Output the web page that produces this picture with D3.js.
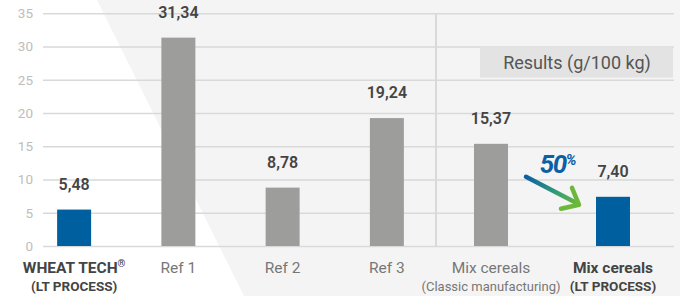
<!DOCTYPE html>
<html>
<head>
<meta charset="utf-8">
<script src="https://cdn.jsdelivr.net/npm/d3@7"></script>
<style>
  html, body { margin: 0; padding: 0; background: #fff; }
  svg { display: block; font-family: Roboto, "Noto Sans", sans-serif; }
</style>
</head>
<body>
<svg id="chart" width="680" height="296"></svg>
<script>
// data
const leftGroup = ['wheat', 'ref1', 'ref2', 'ref3'];
const rightGroup = ['mixClassic', 'mixLT'];
const categories = leftGroup.concat(rightGroup);
const values = [5.48, 31.34, 8.78, 19.24, 15.37, 7.40];
const highlighted = [true, false, false, false, false, true];
const labelMain = ['WHEAT TECH', 'Ref 1', 'Ref 2', 'Ref 3', 'Mix cereals', 'Mix cereals'];
const labelSub = ['(LT PROCESS)', '', '', '', '(Classic manufacturing)', '(LT PROCESS)'];
const yTicks = [0, 5, 10, 15, 20, 25, 30, 35];
const legendText = 'Results (g/100 kg)';
const reductionText = '50';

const data = categories.map((c, i) => ({
  key: c, value: values[i], hi: highlighted[i], main: labelMain[i], sub: labelSub[i]
}));

const svg = d3.select('#chart');
const W = 680, H = 296;
const plot = { left: 43, right: 674, top: 13, bottom: 246 };

const fmt = d3.formatLocale({ decimal: ',', thousands: '.', grouping: [3], currency: ['', ''] }).format('.2f');

const y = d3.scaleLinear().domain([0, 35]).range([plot.bottom, 13.3]);
const xLeft = d3.scaleBand().domain(leftGroup).range([22, 439]).paddingInner(0.674).paddingOuter(0.337);
const xRight = d3.scaleBand().domain(rightGroup).range([430, 674]).paddingInner(0.72).paddingOuter(0.36);
const bw = xLeft.bandwidth();
const xPos = k => (leftGroup.includes(k) ? xLeft(k) + xLeft.bandwidth() / 2 : xRight(k) + xRight.bandwidth() / 2) - bw / 2;

// background
svg.append('rect').attr('width', W).attr('height', H).attr('fill', '#f4f4f4');
svg.append('path')
  .attr('d', 'M0,0 L97,0 L244,296 L0,296 Z')
  .attr('fill', '#ffffff');

// grid + y axis
const yAxis = d3.axisLeft(y).tickValues(yTicks).tickSize(-(plot.right - plot.left)).tickPadding(10);
const ga = svg.append('g').attr('transform', `translate(${plot.left},0)`).call(yAxis);
ga.select('.domain').remove();
ga.selectAll('.tick line').attr('stroke', '#d9d9d9').attr('stroke-width', 1.6);
ga.selectAll('.tick text')
  .attr('fill', '#bdbdbd')
  .attr('font-size', 13.5)
  .attr('font-family', 'Roboto, sans-serif');

// separator
const sepX = 436;
svg.append('line')
  .attr('x1', sepX).attr('x2', sepX)
  .attr('y1', y(35)).attr('y2', y(0))
  .attr('stroke', '#d9d9d9').attr('stroke-width', 2);

// legend box
svg.append('rect')
  .attr('x', 480).attr('y', y(30)).attr('width', 193).attr('height', 31)
  .attr('fill', '#e3e3e3');
svg.append('text')
  .attr('x', 577).attr('y', y(30) + 22.5)
  .attr('text-anchor', 'middle')
  .attr('font-size', 18)
  .attr('fill', '#555')
  .text(legendText);

// bars
svg.selectAll('rect.bar')
  .data(data)
  .enter()
  .append('rect')
  .attr('class', 'bar')
  .attr('x', d => xPos(d.key))
  .attr('y', d => y(d.value))
  .attr('width', bw)
  .attr('height', d => y(0) - y(d.value))
  .attr('fill', d => d.hi ? '#00609f' : '#9d9d9b');

// value labels
svg.selectAll('text.val')
  .data(data)
  .enter()
  .append('text')
  .attr('class', 'val')
  .attr('x', d => xPos(d.key) + bw / 2)
  .attr('y', d => y(d.value) - 20)
  .attr('text-anchor', 'middle')
  .attr('font-size', 16)
  .attr('font-weight', 600)
  .attr('fill', '#444')
  .text(d => fmt(d.value));

// x labels
const xl = svg.selectAll('g.xl')
  .data(data)
  .enter()
  .append('g')
  .attr('class', 'xl')
  .attr('transform', d => `translate(${xPos(d.key) + bw / 2},0)`);

const mainT = xl.append('text')
  .attr('y', 273)
  .attr('text-anchor', 'middle')
  .attr('font-size', d => d.hi ? 15.5 : 15.5)
  .attr('font-weight', d => d.hi ? 700 : 400)
  .attr('fill', d => d.hi ? '#444' : '#777');
mainT.append('tspan').text(d => d.main);
mainT.filter(d => d.key === 'wheat')
  .append('tspan')
  .attr('font-size', 10)
  .attr('dy', -6)
  .text('®');

xl.append('text')
  .attr('y', 291)
  .attr('text-anchor', 'middle')
  .attr('font-size', d => d.hi ? 13.5 : 13)
  .attr('font-weight', d => d.hi ? 700 : 400)
  .attr('fill', d => d.hi ? '#444' : '#777')
  .text(d => d.sub);

// reduction arrow
const from = data[4], to = data[5];
const x0 = xPos(from.key) + bw + 18, y0 = y(from.value) + 33;
const x1 = xPos(to.key) - 18, y1 = y(to.value) + 7;

const grad = svg.append('defs').append('linearGradient')
  .attr('id', 'arrowGrad')
  .attr('gradientUnits', 'userSpaceOnUse')
  .attr('x1', x0).attr('y1', y0).attr('x2', x1).attr('y2', y1);
grad.append('stop').attr('offset', '0%').attr('stop-color', '#0b5fa3');
grad.append('stop').attr('offset', '55%').attr('stop-color', '#2f9a78');
grad.append('stop').attr('offset', '100%').attr('stop-color', '#6cb83a');

svg.append('path')
  .attr('d', `M${x0},${y0} L${x1},${y1}`)
  .attr('stroke', 'url(#arrowGrad)')
  .attr('stroke-width', 4.5)
  .attr('stroke-linecap', 'round')
  .attr('fill', 'none');
svg.append('path')
  .attr('d', `M${x1 - 6},${y1 - 16} L${x1 + 1},${y1 + 1} L${x1 - 17},${y1 + 5}`)
  .attr('stroke', '#6cb83a')
  .attr('stroke-width', 4.5)
  .attr('stroke-linecap', 'round')
  .attr('stroke-linejoin', 'round')
  .attr('fill', 'none');

const pct = svg.append('text')
  .attr('x', x1 - 3)
  .attr('y', y(to.value) - 24)
  .attr('text-anchor', 'end')
  .attr('font-style', 'italic')
  .attr('font-weight', 700)
  .attr('fill', '#0b5fa5')
  .attr('letter-spacing', -1.5);
pct.append('tspan').attr('font-size', 26).text(reductionText);
pct.append('tspan').attr('font-size', 15).attr('dy', -8).text('%');
</script>
</body>
</html>
